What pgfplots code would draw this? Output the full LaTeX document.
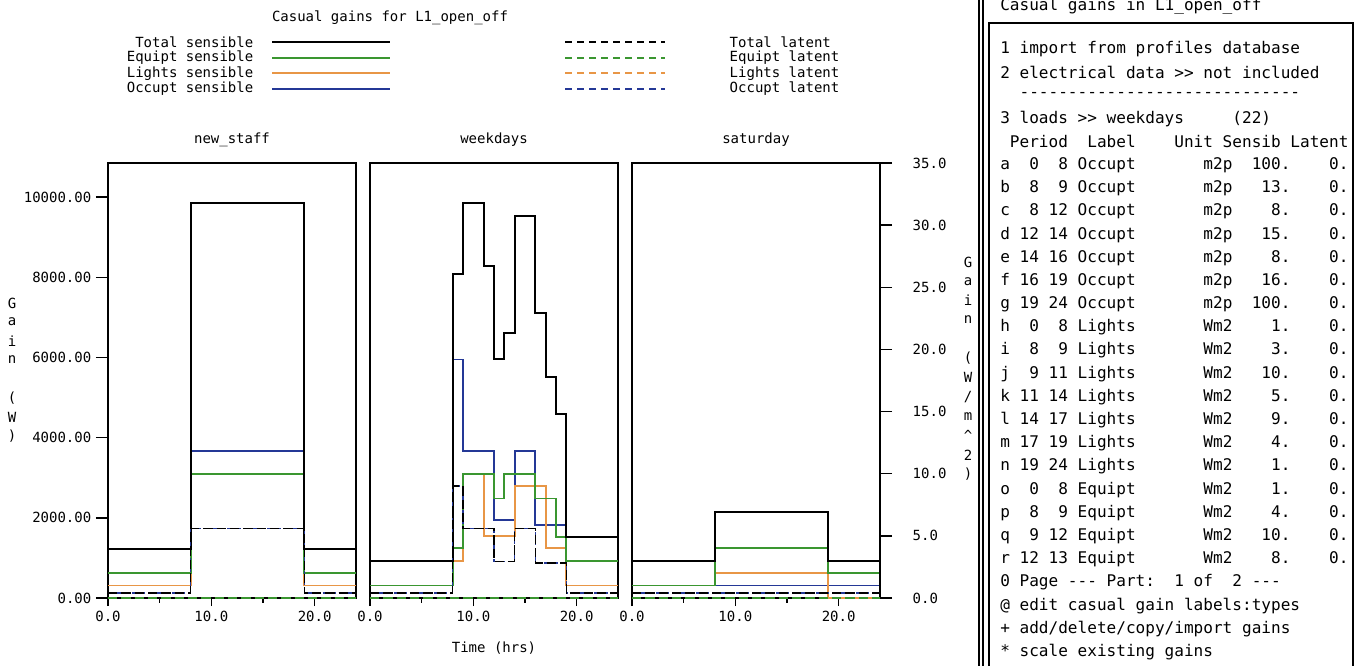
\documentclass[border=0pt]{standalone}
\usepackage{pgfplots}
\pgfplotsset{compat=1.18}
\usepackage{fontspec}
\setmonofont{DejaVu Sans Mono}
\frenchspacing

\definecolor{eqgreen}{RGB}{58,150,48}
\definecolor{ltorange}{RGB}{232,150,70}
\definecolor{ocblue}{RGB}{36,56,150}

\newcommand\chartfont{\ttfamily\fontsize{10.5}{13}\selectfont}
\newcommand\menufont{\ttfamily\fontsize{12.05}{14}\selectfont}

\pgfplotsset{
  panel/.style={
    scale only axis, width=186pt, height=326.25pt,
    anchor=south west,
    xmin=0, xmax=24, ymin=0, ymax=35,
    axis line style={line width=1.3pt},
    xtick={0,10,20}, minor xtick={5,15},
    xticklabels={0.0,10.0,20.0},
    xtick pos=bottom, tick align=outside,
    major tick length=6pt, minor tick length=3.5pt,
    every tick/.style={black, line width=1.1pt},
    tick label style={font=\chartfont},
    ytick=\empty,
  },
  sens/.style={const plot, line width=1.3pt},
  tot/.style={const plot, black, line width=1.4pt},
  lat/.style={const plot, line width=1.2pt, dash pattern=on 7pt off 3pt},
}

\begin{document}
\begin{tikzpicture}
\useasboundingbox (0,0) rectangle (1019.25pt,-499.5pt);

% new_staff
\begin{axis}[panel, at={(81pt,-448.5pt)}, ytick pos=left,
  extra y ticks={0,6.4516,12.9032,19.3548,25.8065,32.2581},
  extra y tick labels={0.00,2000.00,4000.00,6000.00,8000.00,10000.00},
  extra y tick style={major tick length=9pt}]
\addplot[sens, ocblue] coordinates {(0,1) (8,11.8) (19,1) (24,1)};
\addplot[sens, ltorange] coordinates {(0,1) (8,10) (19,1) (24,1)};
\addplot[sens, eqgreen] coordinates {(0,2) (8,10) (19,2) (24,2)};
\addplot[tot] coordinates {(0,3.95) (8,31.8) (19,3.95) (24,3.95)};
\addplot[lat, ltorange] coordinates {(0,0) (24,0)};
\addplot[lat, eqgreen] coordinates {(0,0) (24,0)};
\addplot[lat, ocblue, dash pattern=on 4pt off 2pt] coordinates {(0,0.4) (8,5.6) (19,0.4) (24,0.4)};
\addplot[lat, black] coordinates {(0,0.4) (8,5.6) (19,0.4) (24,0.4)};
\end{axis}

% weekdays
\begin{axis}[panel, at={(277.5pt,-448.5pt)}]
\addplot[sens, ocblue] coordinates {(0,1) (8,19.2) (9,11.8) (12,6.3) (14,11.8) (16,5.9) (19,1) (24,1)};
\addplot[sens, ltorange] coordinates {(0,1) (8,3) (9,10) (11,5) (14,9) (17,4) (19,1) (24,1)};
\addplot[sens, eqgreen] coordinates {(0,1) (8,4) (9,10) (12,8) (13,10) (16,8) (18,4.9) (19,3) (24,3)};
\addplot[tot] coordinates {(0,2.95) (8,26.1) (9,31.8) (11,26.7) (12,19.25) (13,21.3) (14,30.75) (16,22.9) (17,17.8) (18,14.8) (19,4.9) (24,4.9)};
\addplot[lat, ltorange] coordinates {(0,0) (24,0)};
\addplot[lat, eqgreen] coordinates {(0,0) (24,0)};
\addplot[lat, ocblue, dash pattern=on 4pt off 2pt] coordinates {(0,0.4) (8,9.0) (9,5.6) (12,2.95) (14,5.6) (16,2.8) (19,0.4) (24,0.4)};
\addplot[lat, black] coordinates {(0,0.4) (8,9.0) (9,5.6) (12,2.95) (14,5.6) (16,2.8) (19,0.4) (24,0.4)};
\end{axis}

% saturday
\begin{axis}[panel, at={(474pt,-448.5pt)}, ytick pos=right,
  yticklabel style={anchor=west, xshift=12pt},
  extra y ticks={0,5,10,15,20,25,30,35},
  extra y tick labels={0.0,5.0,10.0,15.0,20.0,25.0,30.0,35.0},
  extra y tick style={major tick length=9pt}]
\addplot[sens, ocblue] coordinates {(0,1) (8,1) (19,1) (24,1)};
\addplot[sens, ltorange] coordinates {(0,1) (8,2) (19,0) (24,0)};
\addplot[sens, eqgreen] coordinates {(0,1) (8,4) (19,2) (24,2)};
\addplot[tot] coordinates {(0,2.95) (8,6.9) (19,2.95) (24,0)};
\addplot[lat, ltorange] coordinates {(0,0) (24,0)};
\addplot[lat, eqgreen] coordinates {(0,0) (24,0)};
\addplot[lat, ocblue, dash pattern=on 4pt off 2pt] coordinates {(0,0.4) (24,0.4)};
\addplot[lat, black] coordinates {(0,0.4) (24,0.4)};
\end{axis}

\begin{scope}[x=0.75pt, y=-0.75pt, font=\chartfont]
% titles
\node at (390,18) {Casual gains for L1\_open\_off};
\node at (232,140) {new\_staff};
\node at (494,140) {weekdays};
\node at (756,140) {saturday};
\node at (494,648) {Time (hrs)};
% legend
\foreach \t/\c/\y in {Total/black/42, Equipt/eqgreen/57.7, Lights/ltorange/73.4, Occupt/ocblue/89} {
  \node[anchor=east] at (258,\y) {\t{} sensible};
  \draw[\c, line width=1.5pt] (272,\y) -- (390,\y);
  \draw[\c, line width=1.5pt, dash pattern=on 5pt off 4pt] (565,\y) -- (665,\y);
  \node[anchor=west] at (725,\y) {\t{} latent};
}
% axis labels, one letter per line
\foreach \c [count=\k from 0] in {G,a,i,n,{},{(},W,{)}}
  \node at (12,303+19*\k) {\c};
\foreach \c [count=\k from 0] in {G,a,i,n,{},{(},W,/,m,\textasciicircum,2,{)}}
  \node at (968,262+19.3*\k) {\c};
\end{scope}

% menu panel
\begin{scope}[x=0.75pt, y=-0.75pt, font=\menufont]
\draw[line width=1pt] (979,0) -- (979,666);
\draw[line width=1pt] (983,0) -- (983,666);
\draw[line width=1pt] (989,666) -- (989,23) -- (1353,23) -- (1353,666);
\node[anchor=west, inner xsep=0pt] at (1000,6) {Casual gains in L1\_open\_off};
\foreach \s [count=\k from 0] in {
  1~import~from~profiles~database,
  2~electrical~data~>>~not~included,
  ~~-----------------------------,
  3~loads~>>~weekdays~~~~~(22),
  ~Period~~Label~~~~Unit~Sensib~Latent,
  a~~0~~8~Occupt~~~~~~~m2p~~100.~~~~0.,
  b~~8~~9~Occupt~~~~~~~m2p~~~13.~~~~0.,
  c~~8~12~Occupt~~~~~~~m2p~~~~8.~~~~0.,
  d~12~14~Occupt~~~~~~~m2p~~~15.~~~~0.,
  e~14~16~Occupt~~~~~~~m2p~~~~8.~~~~0.,
  f~16~19~Occupt~~~~~~~m2p~~~16.~~~~0.,
  g~19~24~Occupt~~~~~~~m2p~~100.~~~~0.,
  h~~0~~8~Lights~~~~~~~Wm2~~~~1.~~~~0.,
  i~~8~~9~Lights~~~~~~~Wm2~~~~3.~~~~0.,
  j~~9~11~Lights~~~~~~~Wm2~~~10.~~~~0.,
  k~11~14~Lights~~~~~~~Wm2~~~~5.~~~~0.,
  l~14~17~Lights~~~~~~~Wm2~~~~9.~~~~0.,
  m~17~19~Lights~~~~~~~Wm2~~~~4.~~~~0.,
  n~19~24~Lights~~~~~~~Wm2~~~~1.~~~~0.,
  o~~0~~8~Equipt~~~~~~~Wm2~~~~1.~~~~0.,
  p~~8~~9~Equipt~~~~~~~Wm2~~~~4.~~~~0.,
  q~~9~12~Equipt~~~~~~~Wm2~~~10.~~~~0.,
  r~12~13~Equipt~~~~~~~Wm2~~~~8.~~~~0.,
  0~Page~---~Part:~~1~of~~2~---,
  @~edit~casual~gain~labels:types,
  +~add/delete/copy/import~gains,
  *~scale~existing~gains}
  \node[anchor=west, inner xsep=0pt] at (1000,49+23.2*\k) {\s};
\end{scope}
\end{tikzpicture}
\end{document}
